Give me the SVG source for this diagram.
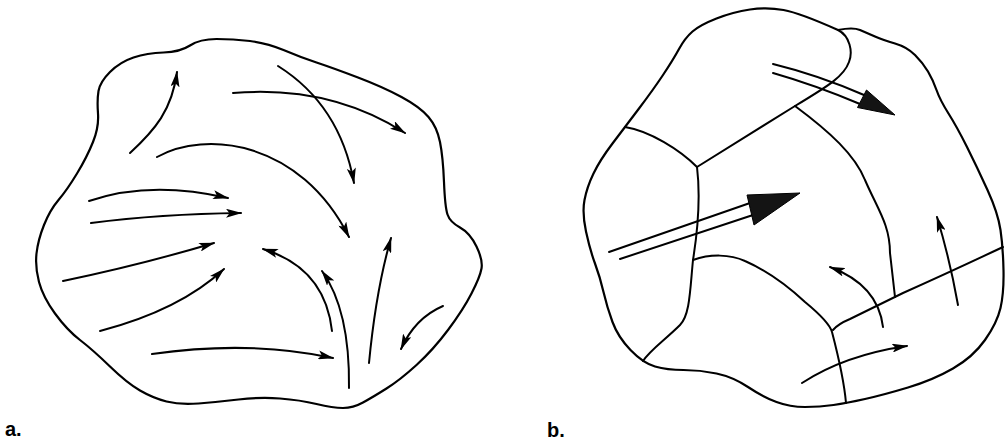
<svg xmlns="http://www.w3.org/2000/svg" width="1005" height="444" viewBox="0 0 1005 444">
<style>
.ol{fill:none;stroke:#000;stroke-width:2.2;stroke-linejoin:round;stroke-linecap:round}
.bd{fill:none;stroke:#000;stroke-width:2;stroke-linejoin:round;stroke-linecap:round}
.ar{fill:none;stroke:#000;stroke-width:2;stroke-linecap:round;marker-end:url(#ah)}
.dl{fill:none;stroke:#000;stroke-width:2;stroke-linecap:round}
.hd{fill:#141414;stroke:#000;stroke-width:1;stroke-linejoin:round}
.lb{font-family:"Liberation Sans",Arial,sans-serif;font-weight:bold;font-size:20px;fill:#000}
</style>
<defs>
<marker id="ah" viewBox="0 0 16 9" refX="15" refY="4.5" markerWidth="16" markerHeight="9" markerUnits="userSpaceOnUse" orient="auto">
<path d="M0,0 L16,4.5 L0,9 L3.5,4.5 Z" fill="#000"/>
</marker>
</defs>
<rect width="1005" height="444" fill="#fff"/>

<g id="panel-a">
<path id="a-outline" class="ol" d="M216.5,39 Q200,39 190,45.5 Q180,52 163.5,52.5 Q147,53 133.5,57.5 Q120,62 110,72 Q100,82 98.5,91 Q97,100 98,113.5 Q99,127 93,142 Q87,157 77,173.5 Q67,190 58.5,200 Q50,210 44,225 Q38,240 36.5,253.5 Q35,267 39,282 Q43,297 55,313.5 Q67,330 80,340 Q93,350 110,366.5 Q127,383 140,390.5 Q153,398 166.5,401.5 Q180,405 198.5,403.5 Q217,402 238.5,399.5 Q260,397 280,398.5 Q300,400 316.5,404 Q333,408 343,408 Q353,408 363,402.5 Q373,397 386.5,388.5 Q400,380 416.5,365 Q433,350 448,330 Q463,310 471.5,293.5 Q480,277 481.5,268.5 Q483,260 476.5,246.5 Q470,233 460,227.5 Q450,222 447.5,214.5 Q445,207 444,182 Q443,157 440,142 Q437,127 428.5,117 Q420,107 401.5,97 Q383,87 358,77.5 Q333,68 316.5,62.5 Q300,57 283.5,50 Q267,43 250,41 Q233,39 216.5,39 Z"/>
<g id="a-arrows">
<path class="ar" d="M130,153 C155,130 172,110 177,72"/>
<path class="ar" d="M233,93 Q330,85 405,133"/>
<path class="ar" d="M278,66 Q340,105 354,183"/>
<path class="ar" d="M157,157 C205,130 300,140 349,237"/>
<path class="ar" d="M89,201 Q150,180 228,198"/>
<path class="ar" d="M91,223 Q160,214 241,213"/>
<path class="ar" d="M63,281 Q140,265 214,243"/>
<path class="ar" d="M100,331 Q180,310 224,269"/>
<path class="ar" d="M152,354 Q250,340 333,358"/>
<path class="ar" d="M332,331 Q325,268 263,249"/>
<path class="ar" d="M349,388 Q350,310 322,271"/>
<path class="ar" d="M369,363 Q376,290 391,238"/>
<path class="ar" d="M443,306 Q415,318 401,349"/>
</g>
<text id="label-a" class="lb" x="5" y="436">a.</text>
</g>

<g id="panel-b">
<path id="b-outline" class="ol" d="M838,30 Q800,13 783.5,10 Q767,7 750,9.5 Q733,12 716.5,18.5 Q700,25 692.5,31.5 Q685,38 679,49 Q673,60 663,75 Q653,90 639,108.5 Q625,127 612.5,143.5 Q600,160 593.5,173.5 Q587,187 584.5,200 Q582,213 586,231.5 Q590,250 595,263.5 Q600,277 603.5,292 Q607,307 612.5,322 Q618,337 630.5,350 Q643,363 655,366.5 Q667,370 683.5,370 Q700,370 716.5,373.5 Q733,377 748,387 Q763,397 776.5,402 Q790,407 805,407 Q820,407 833.5,405 Q847,403 865,399 Q883,395 908,387.5 Q933,380 953,368.5 Q973,357 985,340 Q997,323 1000.5,308 Q1004,293 1003.5,270 Q1003,247 1000.5,230 Q998,213 987.5,190 Q977,167 967,147 Q957,127 948.5,113.5 Q940,100 936.5,90 Q933,80 928,71.5 Q923,63 915,55 Q907,47 895,43.5 Q883,40 875,36.5 Q867,33 860,30 Q853,27 838,30 Z"/>
<g id="b-boundaries">
<path class="bd" d="M838,30 C850,36 853,52 849,62 C844,76 830,85 795,106 L697,167"/>
<path class="bd" d="M795,106 C830,132 855,155 865,180 C878,210 890,225 890,253 L895,297"/>
<path class="bd" d="M625,127 C650,131 680,150 697,167"/>
<path class="bd" d="M697,167 C701,200 697,235 693,260 C690,290 690,315 680,325 C665,340 650,350 643,361"/>
<path class="bd" d="M693,260 C710,254 730,254 745,261 C770,272 790,288 805,302 C822,316 830,325 832,332 C838,355 844,380 846,403"/>
<path class="bd" d="M833,330 Q838,324 850,319 L903,293 Q950,272 1003,247"/>
</g>
<g id="b-arrows">
<path class="ar" d="M883,327 Q878,285 830,267"/>
<path class="ar" d="M802,383 Q845,355 907,346"/>
<path class="ar" d="M958,305 Q950,260 937,217"/>
<g id="b-double-arrow-upper">
<path class="dl" d="M773,64 Q818,75 864,95"/>
<path class="dl" d="M773,73 Q815,85 860,104"/>
<path class="hd" d="M866.5,90 L895,115 L857.5,107.5 Z"/>
</g>
<g id="b-double-arrow-lower">
<path class="dl" d="M609,252 L750,203"/>
<path class="dl" d="M620,259 L753,215"/>
<path class="hd" d="M747,195 L800,193 L754,225 Z"/>
</g>
</g>
<text id="label-b" class="lb" x="547" y="437">b.</text>
</g>
</svg>
